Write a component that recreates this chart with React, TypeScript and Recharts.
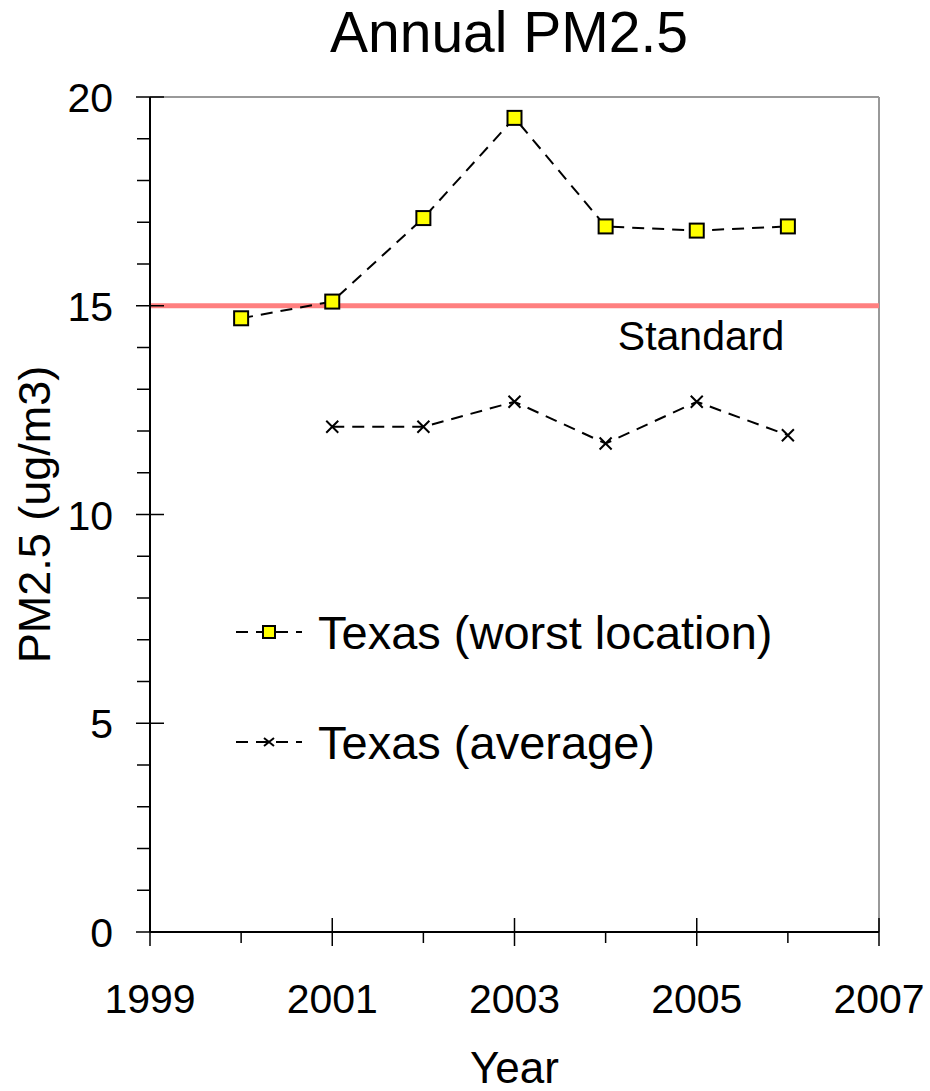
import React from 'react';
import { LineChart, Line, XAxis, YAxis, ReferenceLine } from 'recharts';

const years = [2000, 2001, 2002, 2003, 2004, 2005, 2006];
const worstLocation = [14.7, 15.1, 17.1, 19.5, 16.9, 16.8, 16.9];
const averageValues: (number | null)[] = [null, 12.1, 12.1, 12.7, 11.7, 12.7, 11.9];
const xTicks = [1999, 2000, 2001, 2002, 2003, 2004, 2005, 2006, 2007];
const xLabelYears = [1999, 2001, 2003, 2005, 2007];
const yTicks = [0, 1, 2, 3, 4, 5, 6, 7, 8, 9, 10, 11, 12, 13, 14, 15, 16, 17, 18, 19, 20];
const yLabelValues = [0, 5, 10, 15, 20];
const standardValue = 15;
const title = 'Annual PM2.5';
const xTitle = 'Year';
const yTitle = 'PM2.5 (ug/m3)';
const standardLabel = 'Standard';
const legendLabels = ['Texas (worst location)', 'Texas (average)'];

const data = years.map((y, i) => ({ year: y, worst: worstLocation[i], average: averageValues[i] }));

const FONT = '"Liberation Sans", Arial, sans-serif';

const SquareDot = (props: any) => {
  const { cx, cy, index } = props;
  if (cx == null || cy == null) return <g key={`sq-${index}`} />;
  return (
    <rect key={`sq-${index}`} x={cx - 7} y={cy - 7} width={14} height={14} fill="#FFFF00" stroke="#000" strokeWidth={2} />
  );
};

const CrossDot = (props: any) => {
  const { cx, cy, index } = props;
  if (cx == null || cy == null) return <g key={`x-${index}`} />;
  return (
    <path
      key={`x-${index}`}
      d={`M${cx - 6},${cy - 6}L${cx + 6},${cy + 6}M${cx + 6},${cy - 6}L${cx - 6},${cy + 6}`}
      stroke="#000"
      strokeWidth={2}
      fill="none"
    />
  );
};

const XTick = (props: any) => {
  const { x, y, payload } = props;
  const major = xLabelYears.includes(payload.value);
  return (
    <g>
      {major ? (
        <line x1={x} y1={y - 14} x2={x} y2={y + 14} stroke="#000" strokeWidth={1.5} />
      ) : (
        <line x1={x} y1={y} x2={x} y2={y + 11} stroke="#000" strokeWidth={1.5} />
      )}
      {major && (
        <text x={x} y={y + 81} textAnchor="middle" fontFamily={FONT} fontSize={41} fill="#000">
          {payload.value}
        </text>
      )}
    </g>
  );
};

const YTick = (props: any) => {
  const { x, y, payload } = props;
  const major = yLabelValues.includes(payload.value);
  return (
    <g>
      {major ? (
        <line x1={x - 14} y1={y} x2={x + 14} y2={y} stroke="#000" strokeWidth={1.5} />
      ) : (
        <line x1={x - 13} y1={y} x2={x} y2={y} stroke="#000" strokeWidth={1.5} />
      )}
      {major && (
        <text x={x - 37} y={y + 15} textAnchor="end" fontFamily={FONT} fontSize={41} fill="#000">
          {payload.value}
        </text>
      )}
    </g>
  );
};

const StandardLabel = (props: any) => {
  const vb = props.viewBox || {};
  return (
    <text x={vb.x + vb.width - 178} y={vb.y + 44} textAnchor="middle" fontFamily={FONT} fontSize={41} fill="#000">
      {standardLabel}
    </text>
  );
};

const YTitle = (props: any) => {
  const vb = props.viewBox || {};
  const cx = vb.x + 50;
  const cy = vb.y + vb.height / 2;
  return (
    <text x={cx} y={cy} textAnchor="middle" fontFamily={FONT} fontSize={45} fill="#000" transform={`rotate(-90, ${cx}, ${cy})`}>
      {yTitle}
    </text>
  );
};

const XTitle = (props: any) => {
  const vb = props.viewBox || {};
  return (
    <text x={vb.x + vb.width / 2} y={vb.y + 151} textAnchor="middle" fontFamily={FONT} fontSize={44} fill="#000">
      {xTitle}
    </text>
  );
};

export default function App() {
  return (
    <div style={{ position: 'absolute', left: 0, top: 0, width: 930, height: 1091, background: '#fff' }}>
      <div
        style={{
          position: 'absolute',
          left: 0,
          top: 1,
          width: 1018,
          textAlign: 'center',
          fontFamily: FONT,
          fontSize: 57,
          lineHeight: '62px',
          color: '#000',
        }}
      >
        {title}
      </div>
      <LineChart width={930} height={1091} data={data} margin={{ top: 97, right: 51, left: 0, bottom: 0 }}>
        <XAxis
          dataKey="year"
          type="number"
          domain={[1999, 2007]}
          ticks={xTicks}
          interval={0}
          height={159}
          tickSize={0}
          tickMargin={0}
          tickLine={false}
          tick={<XTick />}
          axisLine={{ stroke: '#000', strokeWidth: 2 }}
          label={<XTitle />}
        />
        <YAxis
          type="number"
          domain={[0, 20]}
          ticks={yTicks}
          interval={0}
          width={150}
          tickSize={0}
          tickMargin={0}
          tickLine={false}
          tick={<YTick />}
          axisLine={{ stroke: '#000', strokeWidth: 2 }}
          label={<YTitle />}
        />
        <ReferenceLine y={20} stroke="#999" strokeWidth={2} />
        <ReferenceLine x={2007} stroke="#999" strokeWidth={2} />
        <ReferenceLine y={standardValue} stroke="#FF8080" strokeWidth={5} label={<StandardLabel />} />
        <Line
          dataKey="worst"
          stroke="#000"
          strokeWidth={2}
          strokeDasharray="12 8"
          dot={SquareDot}
          activeDot={false}
          isAnimationActive={false}
        />
        <Line
          dataKey="average"
          stroke="#000"
          strokeWidth={2}
          strokeDasharray="12 8"
          dot={CrossDot}
          activeDot={false}
          connectNulls={false}
          isAnimationActive={false}
        />
      </LineChart>
      {legendLabels.map((label, i) => (
        <div
          key={label}
          style={{
            position: 'absolute',
            left: 232,
            top: 604 + i * 110,
            height: 56,
            display: 'flex',
            alignItems: 'center',
            fontFamily: FONT,
            fontSize: 47,
            color: '#000',
            whiteSpace: 'nowrap',
          }}
        >
          <svg width={80} height={56} style={{ marginRight: 6 }}>
            <line x1={4} y1={28} x2={70} y2={28} stroke="#000" strokeWidth={2} strokeDasharray="12 8" />
            {i === 0 ? (
              <rect x={31} y={22} width={12} height={12} fill="#FFFF00" stroke="#000" strokeWidth={2} />
            ) : (
              <path d="M32,24L42,32M42,24L32,32" stroke="#000" strokeWidth={2} />
            )}
          </svg>
          <span>{label}</span>
        </div>
      ))}
    </div>
  );
}
